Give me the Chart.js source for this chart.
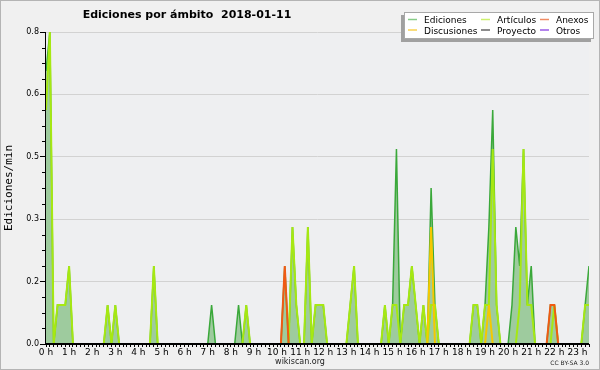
<!DOCTYPE html>
<html>
<head>
<meta charset="utf-8">
<script src="https://cdn.jsdelivr.net/npm/chart.js@4.4.0/dist/chart.umd.min.js"></script>
<style>
html, body { margin: 0; padding: 0; background: #f0f0f0; }
canvas { display: block; }
</style>
</head>
<body>
<canvas id="chart" width="600" height="370"></canvas>
<script>
// edits per minute, one value per 10-minute bin, 00:00 .. 23:30 (one row per hour)
const ediciones = [
    0.7, 0.8, 0, 0.1, 0.1, 0.1,
    0.2, 0, 0, 0, 0, 0,
    0, 0, 0, 0, 0.1, 0,
    0.1, 0, 0, 0, 0, 0,
    0, 0, 0, 0, 0.2, 0,
    0, 0, 0, 0, 0, 0,
    0, 0, 0, 0, 0, 0,
    0, 0.1, 0, 0, 0, 0,
    0, 0, 0.1, 0, 0.1, 0,
    0, 0, 0, 0, 0, 0,
    0, 0, 0.2, 0, 0.3, 0.1,
    0, 0, 0.3, 0, 0.1, 0.1,
    0.1, 0, 0, 0, 0, 0,
    0, 0.1, 0.2, 0, 0, 0,
    0, 0, 0, 0, 0.1, 0,
    0.1, 0.5, 0, 0.1, 0.1, 0.2,
    0.1, 0, 0.1, 0, 0.4, 0.1,
    0, 0, 0, 0, 0, 0,
    0, 0, 0, 0.1, 0.1, 0,
    0.1, 0.3, 0.6, 0.1, 0, 0,
    0, 0.1, 0.3, 0.2, 0.5, 0.1,
    0.2, 0, 0, 0, 0, 0.1,
    0.1, 0, 0, 0, 0, 0,
    0, 0, 0.1, 0.2
];
const articulos = [
    0.6, 0.8, 0, 0.1, 0.1, 0.1,
    0.2, 0, 0, 0, 0, 0,
    0, 0, 0, 0, 0.1, 0,
    0.1, 0, 0, 0, 0, 0,
    0, 0, 0, 0, 0.2, 0,
    0, 0, 0, 0, 0, 0,
    0, 0, 0, 0, 0, 0,
    0, 0, 0, 0, 0, 0,
    0, 0, 0, 0, 0.1, 0,
    0, 0, 0, 0, 0, 0,
    0, 0, 0, 0, 0.3, 0.1,
    0, 0, 0.3, 0, 0.1, 0.1,
    0.1, 0, 0, 0, 0, 0,
    0, 0.1, 0.2, 0, 0, 0,
    0, 0, 0, 0, 0.1, 0,
    0.1, 0.1, 0, 0.1, 0.1, 0.2,
    0.1, 0, 0.1, 0, 0.1, 0.1,
    0, 0, 0, 0, 0, 0,
    0, 0, 0, 0.1, 0.1, 0,
    0.1, 0.1, 0.5, 0.1, 0, 0,
    0, 0, 0, 0.1, 0.5, 0.1,
    0.1, 0, 0, 0, 0, 0,
    0.1, 0, 0, 0, 0, 0,
    0, 0, 0.1, 0.1
];
// sparse series: bin index -> value
const anexos = { 62: 0.2, 131: 0.1, 132: 0.1 };
const discusiones = { 100: 0.3, 115: 0.1 };
const proyecto = {};
const otros = {};

const hourLabels = ['0 h', '1 h', '2 h', '3 h', '4 h', '5 h', '6 h', '7 h', '8 h', '9 h', '10 h', '11 h',
    '12 h', '13 h', '14 h', '15 h', '16 h', '17 h', '18 h', '19 h', '20 h', '21 h', '22 h', '23 h'];
const yTicks = [0, 0.16, 0.32, 0.48, 0.64, 0.8];

const BINS = ediciones.length;
const toPoints = arr => arr.map((v, k) => ({ x: k / 6, y: v }));
const fromSparse = obj => toPoints(Array.from({ length: BINS }, (_, k) => obj[k] || 0));

const FONT = '"DejaVu Sans", sans-serif';

// background, axes on top of the data, title, legend box and footer
const framePlugin = {
    id: 'frame',
    beforeDraw(chart) {
        const { ctx, chartArea: a, width, height } = chart;
        ctx.save();
        ctx.fillStyle = '#f0f0f0';
        ctx.fillRect(0, 0, width, height);
        ctx.fillStyle = '#eeeff1';
        ctx.fillRect(a.left, a.top, a.right - a.left, a.bottom - a.top);
        ctx.strokeStyle = '#b4b4b4';
        ctx.lineWidth = 1;
        ctx.strokeRect(0.5, 0.5, width - 1, height - 1);
        ctx.restore();
    },
    afterDatasetsDraw(chart) {
        const { ctx, chartArea: a } = chart;
        const y = chart.scales.y;
        ctx.save();
        ctx.fillStyle = '#000';
        ctx.fillRect(a.left - 1, a.top, 1, a.bottom - a.top + 1);
        ctx.fillRect(a.left - 1, a.bottom - 1, a.right - a.left + 1, 2);
        // minor y ticks
        for (let i = 1; i < 20; i++) {
            if (i % 4 === 0) continue;
            const py = Math.round(y.getPixelForValue(i * 0.04));
            ctx.fillRect(a.left - 4, py, 3, 1);
        }
        ctx.restore();
    },
    afterDraw(chart) {
        const { ctx } = chart;
        ctx.save();
        ctx.fillStyle = '#000';
        ctx.font = 'bold 11px ' + FONT;
        ctx.textAlign = 'center';
        ctx.fillText('Ediciones por ámbito  2018-01-11', 187, 18);

        // legend box
        ctx.fillStyle = '#a0a0a0';
        ctx.fillRect(401, 15, 190, 27);
        ctx.fillStyle = '#fff';
        ctx.fillRect(404, 12, 190, 27);
        ctx.strokeStyle = '#a8a8a8';
        ctx.strokeRect(404.5, 12.5, 189, 26);

        const colX = [408, 481, 540];
        const rowY = [19.5, 30];
        ctx.font = '9px ' + FONT;
        ctx.textAlign = 'left';
        chart.data.datasets.forEach((ds, i) => {
            const cx = colX[i % 3], cy = rowY[Math.floor(i / 3)];
            ctx.strokeStyle = ds.legendColor;
            ctx.lineWidth = 1.5;
            ctx.beginPath();
            ctx.moveTo(cx, cy);
            ctx.lineTo(cx + 9, cy);
            ctx.stroke();
            ctx.fillStyle = '#000';
            ctx.fillText(ds.label, cx + 16, cy + 3.5);
        });

        ctx.font = '8px ' + FONT;
        ctx.textAlign = 'center';
        ctx.fillStyle = '#222';
        ctx.fillText('wikiscan.org', 300, 364);
        ctx.font = '6px ' + FONT;
        ctx.textAlign = 'right';
        ctx.fillText('CC BY-SA 3.0', 589, 365);
        ctx.restore();
    }
};

function series(label, points, color, legendColor, width, order, fill) {
    return {
        label, data: points,
        borderColor: color, legendColor,
        borderWidth: width, order,
        backgroundColor: fill || 'transparent',
        fill: fill ? 'origin' : false,
        pointRadius: 0, tension: 0
    };
}

new Chart(document.getElementById('chart'), {
    type: 'line',
    data: {
        datasets: [
            series('Ediciones', toPoints(ediciones), '#3aa83a', '#88cc88', 1.5, 10, '#9ecb9e'),
            series('Artículos', toPoints(articulos), '#a6e812', '#cdf06e', 2, 7),
            series('Anexos', fromSparse(anexos), '#f05a14', '#f08c64', 2, 5),
            series('Discusiones', fromSparse(discusiones), '#f5c800', '#f8d250', 2, 6),
            series('Proyecto', fromSparse(proyecto), '#555555', '#666666', 1.5, 9),
            series('Otros', fromSparse(otros), '#8c3ce6', '#9a5ae6', 1.5, 8)
        ]
    },
    options: {
        responsive: false,
        animation: false,
        devicePixelRatio: 1,
        layout: { padding: { top: 32, right: 11, left: 0, bottom: 0 } },
        plugins: { legend: { display: false }, title: { display: false }, tooltip: { enabled: false } },
        scales: {
            x: {
                type: 'linear',
                min: 0,
                max: (BINS - 1) / 6,
                border: { display: false },
                grid: { drawOnChartArea: false, drawTicks: true, tickLength: 3, tickColor: '#000' },
                afterBuildTicks: s => { s.ticks = Array.from({ length: BINS }, (_, k) => ({ value: k / 6 })); },
                afterFit: s => { s.height = 26; },
                ticks: {
                    autoSkip: false, maxRotation: 0, minRotation: 0, padding: 0,
                    color: '#000', font: { family: FONT, size: 9 },
                    callback: (v, i) => (i % 6 === 0 ? hourLabels[i / 6] : '')
                }
            },
            y: {
                min: 0,
                max: 0.8,
                border: { display: false },
                grid: {
                    color: c => (c.tick && c.tick.value === 0 ? 'rgba(0,0,0,0)' : '#d2d2d2'),
                    tickColor: '#000', tickLength: 6, lineWidth: 1
                },
                afterBuildTicks: s => { s.ticks = yTicks.map(v => ({ value: v })); },
                afterFit: s => { s.width = 46; },
                ticks: {
                    padding: 1, color: '#000', font: { family: FONT, size: 8 },
                    callback: v => v.toFixed(1)
                },
                title: {
                    display: true, text: 'Ediciones/min', color: '#000',
                    font: { family: '"DejaVu Sans Mono", monospace', size: 11 },
                    padding: { top: 3, bottom: 0 }
                }
            }
        }
    },
    plugins: [framePlugin]
});
</script>
</body>
</html>
